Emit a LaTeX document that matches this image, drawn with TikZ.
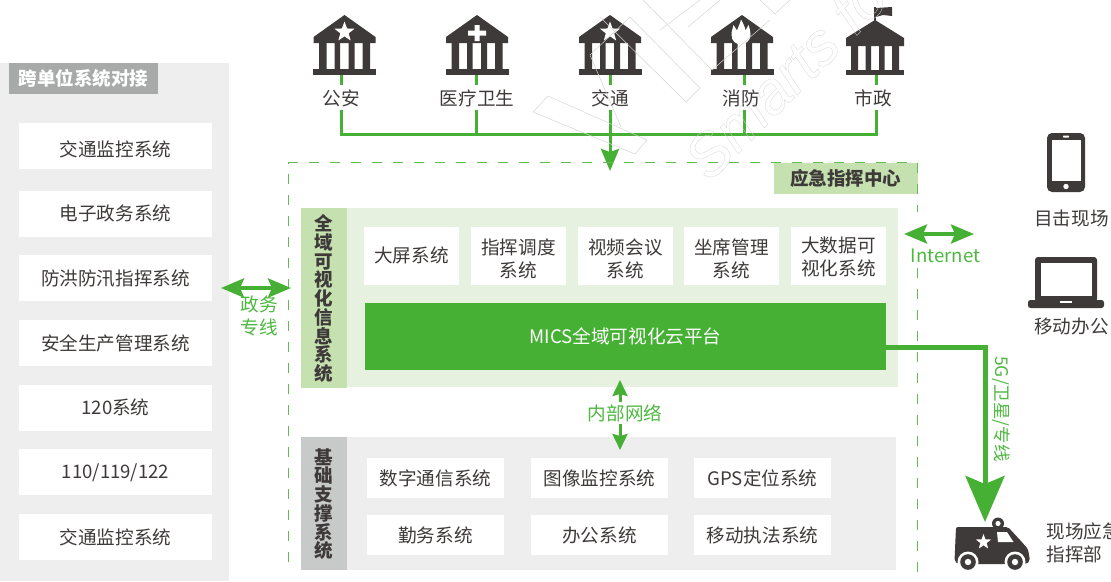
\documentclass[tikz,border=0pt]{standalone}
\usepackage{fontspec}
\setmainfont{Noto Sans CJK SC}
\newfontfamily\wmfont{Liberation Sans}
\usetikzlibrary{arrows.meta,shapes.geometric,calc}
\definecolor{gr}{HTML}{46B035}
\definecolor{grtxt}{HTML}{4DB83F}
\definecolor{grl}{HTML}{C5E1B0}
\definecolor{grp}{HTML}{E6F1DF}
\definecolor{gyp}{HTML}{EEEEEE}
\definecolor{gys}{HTML}{C8C9C9}
\definecolor{gyt}{HTML}{A8A9A9}
\definecolor{ink}{HTML}{3E3A39}
\tikzset{
 x=1pt,y=-1pt,
 base font/.style={font=\fontsize{18.6}{23}\selectfont},
 lbl/.style={base font,text=ink,inner sep=0,align=center},
 glbl/.style={base font,text=grtxt,inner sep=0,align=center},
 whbox/.style={fill=white,inner sep=0,anchor=center},
 vtext/.style={inner sep=0,align=center,text=ink,font=\bfseries\fontsize{18.5}{18.75}\selectfont},
 wire/.style={gr,line width=3pt},
 dbl/.style={gr,line width=4pt,{Stealth[length=23pt,width=19pt,inset=4pt]}-{Stealth[length=23pt,width=19pt,inset=4pt]}},
 wm/.style={black!17,line width=0.5pt},
 bank/.pic={
  \fill[ink] (0,15) -- (-31,37) -- (-31,43) -- (31,43) -- (31,37) -- cycle;
  \fill[ink] (-25.5,43) rectangle (-18,69) (-10,43) rectangle (-4.5,69) (4,43) rectangle (10,69) (18,43) rectangle (25.5,69);
  \fill[ink] (-31.5,69) rectangle (31.5,75);
 },
 bankflag/.pic={
  \fill[ink] (0,20) -- (-29,38) -- (-29,46) -- (29,46) -- (29,38) -- cycle;
  \fill[ink] (-24,46) rectangle (-17,70) (-9.5,46) rectangle (-4,70) (4,46) rectangle (9.5,70) (17,46) rectangle (24,70);
  \fill[ink] (-29,70) rectangle (29,75);
  \fill[ink] (-0.8,7) rectangle (0.8,22);
  \fill[ink] (0.8,8) -- (17,7) -- (17,16) -- (8,15) -- (0.8,17) -- cycle;
 },
 wstar/.style={star,star points=5,star point ratio=2.4,fill=white,inner sep=0,minimum size=#1,draw=none},
}
\begin{document}
\begin{tikzpicture}
\useasboundingbox (0,0) rectangle (1111,581);
\clip (0,0) rectangle (1111,581);
% left panel
\fill[gyp] (0,63) rectangle (229,581);
\node[fill=gyt,minimum width=149pt,minimum height=31pt,inner sep=0,text=white,font=\bfseries\fontsize{18.5}{23}\selectfont] (ttl) at (83.5,78.5) {跨单位系统对接};
\foreach \n/\y/\ty/\t in {l1/146/149/交通监控系统,l2/214/213.5/电子政务系统,l3/278/278.5/防洪防汛指挥系统,l4/342.5/343/安全生产管理系统,l5/408/407.5/120系统,l6/472/472.5/{110/119/122},l7/537/537/交通监控系统}{
 \node[whbox,minimum width=193pt,minimum height=46pt] (\n) at (115.5,\y) {};
 \node[lbl] (\n t) at (115.5,\ty) {\t};
}
% banks
\pic at (344.5,0) {bank};
\pic at (477,0) {bank};
\pic at (610,0) {bank};
\pic at (742,0) {bank};
\pic at (875,0) {bankflag};
\node[wstar=21pt] (s1) at (344.5,32) {};
\fill[white] (468,30.5) rectangle (486,35.5) (474.5,25) rectangle (479.5,41);
\node[wstar=21pt] (s3) at (610,32) {};
\fill[white] (731.5,35) .. controls (731.5,31) and (733,28) .. (733.5,25) -- (737,30.5) .. controls (738,27) and (740,24) .. (741,19.5) .. controls (743,23) and (745,27) .. (745.5,30.5) -- (748.5,25) .. controls (749.5,28) and (750.5,31) .. (750.5,35) .. controls (750.5,41) and (745,44.5) .. (741,44.5) .. controls (736,44.5) and (731.5,41) .. (731.5,35) -- cycle;
% labels
\node[lbl] (a1) at (341,98) {公安};
\node[lbl] (a2) at (477,98) {医疗卫生};
\node[lbl] (a3) at (610,98) {交通};
\node[lbl] (a4) at (741,98) {消防};
\node[lbl] (a5) at (873,98) {市政};
\coordinate (t1) at (341,75); \coordinate (b1) at (341,110); \coordinate (d1) at (341,134);
\coordinate (t2) at (476,75); \coordinate (b2) at (476,110); \coordinate (d2) at (476,134);
\coordinate (t3) at (610,75); \coordinate (b3) at (610,110); \coordinate (d3) at (610,134);
\coordinate (t4) at (744,75); \coordinate (b4) at (744,110); \coordinate (d4) at (744,134);
\coordinate (t5) at (876.5,75); \coordinate (b5) at (876.5,110); \coordinate (d5) at (876.5,134);
\foreach \i in {1,...,5}{
 \draw[wire] (t\i) -- ++(0,10);
 \draw[wire] (b\i) -- (d\i);
}
\draw[wire] ($(d1)+(-1.5,0)$) -- ($(d5)+(1.5,0)$);
\coordinate (tip) at (610,171);
\draw[wire,-{Stealth[length=22pt,width=18pt,inset=3pt]}] (d3) -- (tip);
% visual panel
\fill[grp] (347,208) rectangle (898,387);
\node[fill=grl,minimum width=46pt,minimum height=180pt,inner sep=0] (vs) at (324,298) {};
\node[vtext] (vst) at (324,298.5) {全\\域\\可\\视\\化\\信\\息\\系\\统};
\foreach \n/\x/\ty/\t in {v1/411.5/255.5/大屏系统,v2/518.5/259/{指挥调度\\系统},v3/625.5/259/{视频会议\\系统},v4/731.5/259/{坐席管理\\系统},v5/838.5/257/{大数据可\\视化系统}}{
 \node[whbox,minimum width=95pt,minimum height=58pt] (\n) at (\x,256) {};
 \node[lbl] (\n t) at (\x,\ty) {\t};
}
\node[fill=gr,minimum width=521pt,minimum height=67pt,inner sep=0,text=white,base font] (mics) at (625.5,336.5) {MICS全域可视化云平台};
% base panel
\fill[gyp] (347,437) rectangle (896,570);
\node[fill=gys,minimum width=46pt,minimum height=133pt,inner sep=0] (bs) at (324,503.5) {};
\node[vtext] (bst) at (323.5,504) {基\\础\\支\\撑\\系\\统};
\foreach \n/\x/\y/\t in {c1/435.5/478/数字通信系统,c2/599.5/478/图像监控系统,c3/762.5/478/GPS定位系统,c4/435.5/535/勤务系统,c5/599.5/535/办公系统,c6/762.5/535/移动执法系统}{
 \node[whbox,minimum width=137pt,minimum height=40pt] (\n) at (\x,\y) {};
 \node[lbl] (\n t) at (\x,\y) {\t};
}
% center title + dashed frame
\node[fill=grl,minimum width=144pt,minimum height=31pt,inner sep=0,text=ink,font=\bfseries\fontsize{18.5}{23}\selectfont] (ctr) at (845.5,178) {应急指挥中心};
\draw[gr!85,line width=1pt,dash pattern=on 10pt off 11pt] (917.5,572) -- (917.5,162.5) -- (288.7,162.5) -- (288.7,572);
\fill[white] (912,212) rectangle (923,268);
% double arrows
\coordinate (pa) at (221,288); \coordinate (pb) at (291,288);
\draw[dbl] (pa) -- (pb);
\node[glbl] (pl) at (259,316) {政务\\专线};
\coordinate (ia) at (904,234); \coordinate (ib) at (974,234);
\draw[dbl] (ia) -- (ib);
\node[glbl] (il) at (945.5,256) {Internet};
\node[glbl] (nl) at (625,413) {内部网络};
\coordinate (na) at (620,380); \coordinate (nb) at (620,450);
\draw[gr,line width=3pt,{Stealth[length=16pt,width=15pt,inset=2pt]}-] (na) -- ($(nl.north -| na)+(0,-2)$);
\draw[gr,line width=3pt,-{Stealth[length=16pt,width=15pt,inset=2pt]}] ($(nl.south -| na)+(0,2)$) -- (nb);
% 5G line
\coordinate (elbow) at (985,347.5); \coordinate (vtip) at (985,522);
\draw[gr,line width=5pt,-{Stealth[length=46pt,width=39pt,inset=8pt]}] (mics.east |- elbow) -- (elbow) -- (vtip);
\node[glbl,rotate=-90,font=\fontsize{17.5}{20}\selectfont] (fg) at (1001,409) {5G/卫星/专线};
% phone
\fill[ink,rounded corners=5pt] (1047,133) rectangle (1085,192);
\fill[white] (1052,140) rectangle (1081,181);
\fill[white,rounded corners=0.7pt] (1063,135.5) rectangle (1069,137.5);
\fill[white] (1066,186.5) circle (2.7);
\node[lbl] (ph) at (1071.5,218.5) {目击现场};
% laptop
\fill[ink,rounded corners=3pt] (1035,257) rectangle (1097,302);
\fill[white] (1040.5,263) rectangle (1092,296);
\fill[ink,rounded corners=2.5pt] (1028,300) -- (1104,300) -- (1104,308) -- (1028,308) -- cycle;
\fill[white] (1060,300.5) rectangle (1072,302.5);
\node[lbl] (lp) at (1071.5,326) {移动办公};
% van
\fill[ink,rounded corners=2pt] (956,527) -- (1008,527) -- (1020,540) -- (1028,549) -- (1030,561) -- (1026,564) -- (958,564) -- (954.5,561) -- cycle;
\fill[ink] (998,523.5) circle (6);
\fill[white] (998,523.5) circle (2.6);
\fill[white] (997,532) -- (1007,532) -- (1013.5,542) -- (998,542) -- cycle;
\node[wstar=16pt] (s4) at (983.5,542) {};
\foreach \w in {968,1015}{
 \fill[white] (\w,562) circle (10.5);
 \fill[ink] (\w,562) circle (7.8);
 \fill[white] (\w,562) circle (3.2);
}
\node[lbl,anchor=north west,align=left] (sc) at (1046.5,523) {现场应急\\指挥部};
% watermark
\begin{scope}[wm]
 \draw (533,112) -- (548,96) -- (647,140) -- (635,154) -- cycle;
 \draw (590,55) -- (621,127);
 \draw (590,55) -- (630,17) -- (700,88) -- (686,102) -- (600,17);
 \draw (643,0) -- (712,70) -- (770,20);
 \draw (688,27) -- (720,0);
 \draw (700,0) -- (660,30);
 \draw (760,0) -- (775,14) -- (790,0);
\end{scope}
\node[inner sep=0,rotate=45,anchor=west,text=black!17] (wmt) at (694,168) {\wmfont\fontsize{60}{64}\selectfont\itshape\special{pdf:code 1 Tr 0.3 w}Smarts fo\special{pdf:code 0 Tr}};
\end{tikzpicture}
\end{document}
